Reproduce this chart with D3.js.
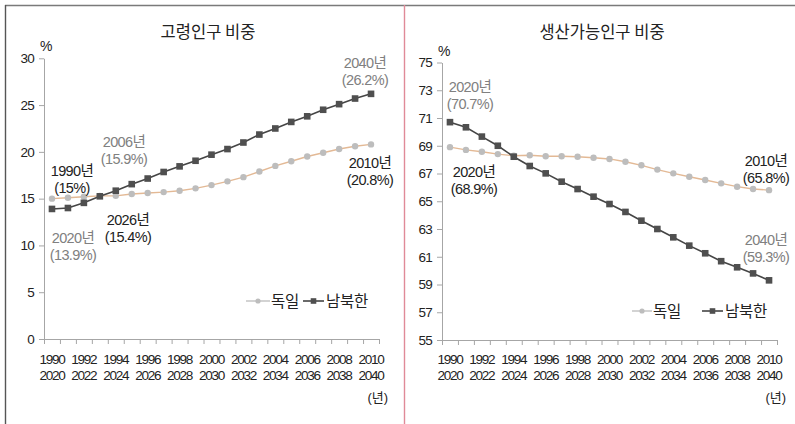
<!DOCTYPE html>
<html>
<head>
<meta charset="utf-8">
<script src="https://cdn.jsdelivr.net/npm/d3@7/dist/d3.min.js"></script>
<style>
  html, body { margin: 0; padding: 0; background: #fff; }
  svg { display: block; font-family: "Noto Sans CJK KR", "Noto Sans", sans-serif; }
  .num { font-family: "Liberation Sans", "Noto Sans CJK KR", sans-serif; }
</style>
</head>
<body>
<svg id="chart" width="795" height="424"></svg>
<script>
// Year categories (upper row: Germany, lower row: the two Koreas)
const yearsGermany = [1990, 1991, 1992, 1993, 1994, 1995, 1996, 1997, 1998, 1999, 2000,
                      2001, 2002, 2003, 2004, 2005, 2006, 2007, 2008, 2009, 2010];
const yearsKorea = [2020, 2021, 2022, 2023, 2024, 2025, 2026, 2027, 2028, 2029, 2030,
                    2031, 2032, 2033, 2034, 2035, 2036, 2037, 2038, 2039, 2040];

// Share of elderly population (%)
const elderlyGermany = [15.0, 15.1, 15.2, 15.3, 15.3, 15.5, 15.6, 15.7, 15.85, 16.1, 16.45,
                        16.85, 17.3, 17.9, 18.5, 19.0, 19.5, 19.9, 20.3, 20.6, 20.8];
const elderlyKorea = [13.9, 14.0, 14.55, 15.25, 15.85, 16.55, 17.15, 17.85, 18.45, 19.05, 19.7,
                      20.3, 21.0, 21.85, 22.5, 23.2, 23.8, 24.5, 25.1, 25.7, 26.2];

// Share of working-age population (%)
const workingGermany = [68.9, 68.7, 68.57, 68.4, 68.28, 68.31, 68.24, 68.24, 68.21, 68.14, 68.05,
                        67.85, 67.59, 67.28, 67.01, 66.77, 66.53, 66.29, 66.05, 65.88, 65.8];
const workingKorea = [70.7, 70.33, 69.66, 69.0, 68.21, 67.54, 67.01, 66.41, 65.88, 65.33, 64.8,
                      64.23, 63.6, 63.0, 62.4, 61.8, 61.25, 60.68, 60.24, 59.8, 59.3];

const seriesNames = ["독일", "남북한"];
const elderlyTicks = [0, 5, 10, 15, 20, 25, 30];
const workingTicks = [55, 57, 59, 61, 63, 65, 67, 69, 71, 73, 75];

const svg = d3.select("#chart");

// frame lines
svg.append("line").attr("x1", 5).attr("x2", 795).attr("y1", 5.5).attr("y2", 5.5)
  .attr("stroke", "#7a7a7a").attr("stroke-width", 1.6);
svg.append("line").attr("x1", 5.5).attr("x2", 5.5).attr("y1", 5).attr("y2", 424)
  .attr("stroke", "#555").attr("stroke-width", 1.4);
svg.append("line").attr("x1", 404.5).attr("x2", 404.5).attr("y1", 5).attr("y2", 424)
  .attr("stroke", "#e08a98").attr("stroke-width", 1.4);

const germanyLine = "#e3b995";
const germanyMark = "#bdbdbd";
const koreaColor = "#454545";
const grayText = "#808080";

function panel(opt) {
  const g = svg.append("g");
  const x = d3.scaleBand().domain(d3.range(yearsGermany.length)).range([opt.x0, opt.x1]).padding(0);
  const xEdge = d3.scaleLinear().domain([0, yearsGermany.length]).range([opt.x0, opt.x1]);
  const y = d3.scaleLinear().domain(opt.domain).range([opt.yBottom, opt.yTop]);
  const cx = i => x(i) + x.bandwidth() / 2;

  // title
  g.append("text").attr("x", opt.titleX).attr("y", 38).attr("text-anchor", "middle")
    .attr("font-size", 16.5).attr("fill", "#222").text(opt.title);
  g.append("text").attr("class", "num").attr("x", opt.x0 - 4).attr("y", opt.pctY)
    .attr("font-size", 14).attr("fill", "#222").text("%");

  // y axis
  const ya = g.append("g").attr("transform", `translate(${opt.x0},0)`)
    .call(d3.axisLeft(y).tickValues(opt.ticks).tickSize(5).tickSizeOuter(0).tickPadding(5));
  ya.select(".domain").attr("stroke", "#a6a6a6");
  ya.selectAll(".tick line").attr("stroke", "#a6a6a6");
  ya.selectAll(".tick text").attr("class", "num").attr("font-size", 13.5).attr("fill", "#222")
    .attr("letter-spacing", -0.8).attr("font-family", null);

  // x axis with ticks on category boundaries
  const xa = g.append("g").attr("transform", `translate(0,${opt.yBottom})`)
    .call(d3.axisBottom(xEdge).tickValues(d3.range(yearsGermany.length + 1)).tickSize(5)
      .tickSizeOuter(0).tickFormat(""));
  xa.select(".domain").attr("stroke", "#a6a6a6");
  xa.selectAll(".tick line").attr("stroke", "#a6a6a6");

  // two-row year labels
  const labelIdx = d3.range(0, yearsGermany.length, 2);
  g.selectAll(".yt").data(labelIdx).join("text").attr("class", "num")
    .attr("x", i => cx(i)).attr("y", 364).attr("text-anchor", "middle")
    .attr("font-size", 13.6).attr("letter-spacing", -1.3).attr("fill", "#222")
    .text(i => yearsGermany[i]);
  g.selectAll(".yb").data(labelIdx).join("text").attr("class", "num")
    .attr("x", i => cx(i)).attr("y", 380).attr("text-anchor", "middle")
    .attr("font-size", 13.6).attr("letter-spacing", -1.3).attr("fill", "#222")
    .text(i => yearsKorea[i]);
  g.append("text").attr("class", "num").attr("x", opt.x1 + 9).attr("y", 402)
    .attr("text-anchor", "end").attr("font-size", 13).attr("fill", "#222").text("(년)");

  // series
  const line = d3.line().x((d, i) => cx(i)).y(d => y(d));
  g.append("path").datum(opt.germany).attr("d", line).attr("fill", "none")
    .attr("stroke", germanyLine).attr("stroke-width", 1.4);
  g.selectAll(".gm").data(opt.germany).join("circle")
    .attr("cx", (d, i) => cx(i)).attr("cy", d => y(d)).attr("r", 3.2).attr("fill", germanyMark);
  g.append("path").datum(opt.korea).attr("d", line).attr("fill", "none")
    .attr("stroke", koreaColor).attr("stroke-width", 1.6);
  g.selectAll(".km").data(opt.korea).join("rect")
    .attr("x", (d, i) => cx(i) - 3.3).attr("y", d => y(d) - 3.3)
    .attr("width", 6.6).attr("height", 6.6).attr("fill", "#4f4f4f");

  // annotations
  opt.notes.forEach(n => {
    const t = g.append("text").attr("class", "num").attr("x", n.x).attr("y", n.y)
      .attr("text-anchor", "middle").attr("font-size", 14.5).attr("letter-spacing", -0.6)
      .attr("fill", n.c);
    t.append("tspan").attr("x", n.x).text(n.a);
    t.append("tspan").attr("x", n.x).attr("dy", 17).text(n.b);
  });

  // legend
  const L = opt.legend;
  const lg = g.append("g").attr("transform", `translate(${L.x},${L.y})`);
  lg.append("line").attr("x1", 0).attr("x2", L.w1).attr("y1", 0).attr("y2", 0)
    .attr("stroke", "#c8c8c8").attr("stroke-width", 1.6);
  lg.append("circle").attr("cx", L.w1 / 2).attr("cy", 0).attr("r", 2.6).attr("fill", germanyMark);
  lg.append("text").attr("x", L.w1 + 1).attr("y", 5.5).attr("font-size", 15.5)
    .attr("letter-spacing", -0.3).attr("fill", "#222").text(seriesNames[0]);
  lg.append("line").attr("x1", L.k).attr("x2", L.k + L.w2).attr("y1", 0).attr("y2", 0)
    .attr("stroke", koreaColor).attr("stroke-width", 1.6);
  lg.append("rect").attr("x", L.k + L.w2 / 2 - 2.8).attr("y", -2.8).attr("width", 5.6)
    .attr("height", 5.6).attr("fill", "#4f4f4f");
  lg.append("text").attr("x", L.k + L.w2 + 2).attr("y", 5.5).attr("font-size", 15.5)
    .attr("letter-spacing", -0.3).attr("fill", "#222").text(seriesNames[1]);
}

panel({
  title: "고령인구 비중", titleX: 208, pctY: 51,
  x0: 44, x1: 379, yBottom: 339, yTop: 58.3, domain: [0, 30], ticks: elderlyTicks,
  germany: elderlyGermany, korea: elderlyKorea,
  notes: [
    { a: "2040년", b: "(26.2%)", x: 365, y: 68, c: grayText },
    { a: "2006년", b: "(15.9%)", x: 124, y: 147, c: grayText },
    { a: "1990년", b: "(15%)", x: 72, y: 176, c: "#222" },
    { a: "2010년", b: "(20.8%)", x: 370, y: 168, c: "#222" },
    { a: "2026년", b: "(15.4%)", x: 128, y: 225, c: "#222" },
    { a: "2020년", b: "(13.9%)", x: 73, y: 243, c: grayText }
  ],
  legend: { x: 246, y: 301, w1: 24, k: 57, w2: 21 }
});

panel({
  title: "생산가능인구 비중", titleX: 602, pctY: 56,
  x0: 442, x1: 777, yBottom: 340, yTop: 62.5, domain: [55, 75], ticks: workingTicks,
  germany: workingGermany, korea: workingKorea,
  notes: [
    { a: "2020년", b: "(70.7%)", x: 470, y: 92, c: grayText },
    { a: "2020년", b: "(68.9%)", x: 474, y: 177, c: "#222" },
    { a: "2010년", b: "(65.8%)", x: 766, y: 166, c: "#222" },
    { a: "2040년", b: "(59.3%)", x: 766, y: 245, c: grayText }
  ],
  legend: { x: 632, y: 311, w1: 20, k: 70, w2: 21 }
});
</script>
</body>
</html>
